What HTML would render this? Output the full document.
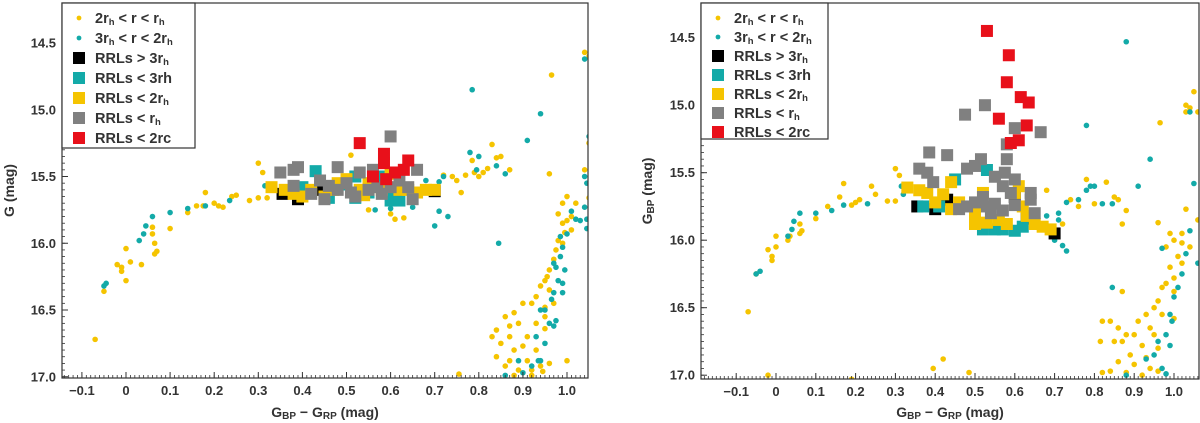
<!DOCTYPE html>
<html><head><meta charset="utf-8"><style>
body{margin:0;background:#fff;}
svg{display:block;font-family:"Liberation Sans","DejaVu Sans",sans-serif;}
</style></head><body>
<svg id="c" width="1200" height="423"></svg>
<script>
// ===== Data: left panel (G vs BP-RP) =====
const L_ring2_x=[-0.07,-0.05,-0.02,0.0,-0.01,-0.01,0.0,0.01,0.035,0.06,0.06,0.065,0.07,0.065,0.1,0.14,0.16,0.175,0.18,0.2,0.21,0.22,0.24,0.25,0.28,0.3,0.31,0.32,0.3,0.51,0.55,0.6,0.61,0.63,0.72,0.74,0.75,0.76,0.77,0.79,0.8,0.81,0.82,0.83,0.84,0.85,0.87,0.785,0.755,0.965,1.04,1.05,1.05,1.04,0.96,1.05,1.0,0.99,1.02,0.98,1.0,0.99,1.01,0.995,0.98,0.975,0.97,0.96,0.955,0.95,0.94,0.96,0.93,0.92,0.95,0.9,0.88,0.86,0.89,0.93,0.95,0.84,0.87,0.91,0.85,0.88,0.9,0.93,0.84,0.87,0.91,0.92,0.86,0.89,0.94,1.0,0.96,0.88,0.92,0.945,0.83,0.87,0.95,0.97,0.99,1.01];
const L_ring2_y=[16.72,16.36,16.16,16.04,16.18,16.21,16.28,16.14,16.16,15.88,15.93,16.0,16.06,16.08,15.89,15.77,15.72,15.72,15.62,15.7,15.72,15.73,15.65,15.64,15.68,15.4,15.47,15.66,15.66,15.34,15.75,15.78,15.82,15.81,15.49,15.5,15.53,15.62,15.49,15.47,15.5,15.47,15.44,15.26,15.36,15.35,15.45,15.38,16.98,14.74,14.57,14.6,15.25,15.45,15.48,15.66,15.65,15.7,15.7,15.78,15.83,15.85,15.9,15.92,15.98,16.05,16.12,16.2,16.25,16.28,16.32,16.35,16.4,16.45,16.48,16.45,16.52,16.55,16.6,16.6,16.64,16.65,16.7,16.7,16.75,16.8,16.77,16.8,16.85,16.88,16.88,16.95,16.92,16.95,16.92,16.88,16.9,16.99,16.99,16.96,16.7,16.62,16.55,16.45,16.0,15.8];
const L_ring3_x=[-0.05,-0.045,0.03,0.04,0.045,0.06,0.1,0.14,0.18,0.235,0.315,0.78,0.785,0.795,0.8,0.84,0.845,0.86,0.91,0.94,1.04,1.05,1.04,1.045,1.04,1.045,1.045,0.72,0.71,0.71,0.73,0.7,0.68,0.65,0.6,0.565,1.0,0.99,0.985,0.97,0.975,0.995,0.98,0.99,0.97,0.99,0.965,0.95,0.94,0.96,0.97,0.975,0.93,0.95,0.94,0.935,0.92,0.89,0.9,0.86,0.985,1.01,1.02,1.03];
const L_ring3_y=[16.32,16.3,15.98,15.93,15.87,15.8,15.77,15.74,15.72,15.68,15.57,15.32,14.85,15.45,15.35,15.42,16.0,15.48,15.23,15.03,14.62,15.2,15.5,15.55,15.73,15.82,15.89,15.5,15.54,15.76,15.8,15.87,15.53,15.73,15.74,15.75,15.93,16.03,16.1,16.15,16.18,16.2,16.28,16.3,16.37,16.37,16.42,16.5,16.5,16.6,16.62,16.58,16.7,16.75,16.88,16.88,16.92,16.88,16.97,16.99,15.95,15.76,15.82,15.83];
const L_rrl3_x=[0.43,0.5,0.55,0.6,0.62,0.46,0.52,0.4,0.58,0.52,0.6];
const L_rrl3_y=[15.46,15.56,15.62,15.68,15.68,15.66,15.66,15.58,15.5,15.5,15.6];
const L_rrlOut_x=[0.355,0.39,0.7,0.44];
const L_rrlOut_y=[15.63,15.67,15.61,15.6];
const L_rrl2_x=[0.33,0.36,0.38,0.42,0.45,0.48,0.5,0.53,0.55,0.58,0.6,0.62,0.64,0.66,0.68,0.7,0.47,0.54,0.4];
const L_rrl2_y=[15.58,15.6,15.63,15.6,15.65,15.55,15.52,15.6,15.55,15.6,15.48,15.6,15.6,15.62,15.6,15.6,15.6,15.64,15.65];
const L_rrl1_x=[0.35,0.38,0.39,0.38,0.42,0.44,0.45,0.48,0.48,0.5,0.52,0.53,0.55,0.56,0.58,0.6,0.6,0.62,0.64,0.65,0.66,0.51,0.57,0.46];
const L_rrl1_y=[15.47,15.45,15.43,15.57,15.63,15.53,15.67,15.43,15.6,15.55,15.65,15.47,15.6,15.45,15.63,15.2,15.58,15.53,15.58,15.67,15.45,15.62,15.58,15.57];
const L_rrlc_x=[0.53,0.585,0.585,0.56,0.59,0.61,0.63,0.64];
const L_rrlc_y=[15.25,15.33,15.4,15.5,15.52,15.47,15.45,15.38];
// ===== Data: right panel (G_BP vs BP-RP) =====
const R_ring2_x=[-0.07,-0.05,-0.02,-0.01,-0.01,0.0,0.0,0.03,0.035,0.06,0.065,0.06,0.1,0.13,0.17,0.16,0.2,0.19,0.21,0.24,0.25,0.28,0.3,0.31,0.3,-0.02,0.19,0.395,0.42,0.485,0.68,0.74,0.76,0.78,0.83,0.85,0.86,0.87,0.88,0.8,0.72,0.965,0.96,1.05,1.03,1.04,1.03,1.06,1.03,1.06,0.99,1.0,1.02,1.04,1.01,1.02,0.99,1.0,0.98,0.97,1.0,0.96,0.95,0.93,0.97,0.91,0.94,0.88,0.9,0.95,0.87,0.92,0.96,0.89,0.93,0.86,0.9,0.94,0.96,0.88,0.92,0.82,0.84,0.86,0.815,0.85,0.84,0.82,0.98,1.0,0.87,1.02];
const R_ring2_y=[16.53,16.25,16.07,16.12,16.15,15.97,16.05,16.0,15.97,15.88,15.93,15.95,15.84,15.75,15.58,15.68,15.72,15.74,15.7,15.6,15.66,15.71,15.47,15.52,15.71,17.0,17.03,16.95,16.88,16.98,15.63,15.7,15.75,15.55,15.57,15.68,15.7,15.88,15.78,15.73,15.88,15.13,15.87,14.9,15.0,15.02,15.05,15.05,15.77,15.85,15.95,16.0,16.02,16.05,16.12,16.17,16.2,16.28,16.32,16.35,16.38,16.45,16.5,16.55,16.55,16.6,16.65,16.7,16.7,16.7,16.75,16.78,16.8,16.85,16.87,16.9,16.92,16.95,16.97,16.98,17.0,16.6,16.6,16.65,16.75,16.75,16.97,16.98,16.05,16.58,16.38,15.95];
const R_ring3_x=[-0.05,-0.04,0.03,0.04,0.045,0.06,0.1,0.14,0.17,0.23,0.315,0.32,0.78,0.79,0.8,0.82,0.845,0.88,0.78,0.91,0.94,0.845,1.04,1.05,1.06,1.04,0.97,1.01,1.0,0.99,0.995,0.98,0.99,0.96,0.95,0.93,0.97,0.98,0.88,0.71,0.71,0.72,0.73,0.7,0.68,0.76,0.73,1.02,1.03];
const R_ring3_y=[16.25,16.23,15.97,15.92,15.86,15.8,15.8,15.78,15.74,15.73,15.6,15.66,15.63,15.6,15.6,15.73,15.73,14.53,15.15,15.6,15.4,16.35,15.05,15.58,16.17,15.93,16.06,16.35,16.42,16.55,16.6,16.7,16.78,16.75,16.85,16.88,16.95,16.99,17.0,15.8,15.85,16.04,16.08,16.0,15.82,15.7,15.72,16.25,16.1];
const R_rrl3_x=[0.37,0.53,0.45,0.52,0.55,0.6,0.62,0.57,0.41];
const R_rrl3_y=[15.75,15.48,15.55,15.92,15.92,15.93,15.9,15.92,15.75];
const R_rrlOut_x=[0.355,0.43,0.6,0.7,0.63,0.4];
const R_rrlOut_y=[15.75,15.7,15.68,15.95,15.84,15.77];
const R_rrl2_x=[0.33,0.36,0.38,0.4,0.42,0.44,0.44,0.46,0.5,0.5,0.53,0.56,0.58,0.6,0.61,0.63,0.65,0.67,0.69,0.62,0.52];
const R_rrl2_y=[15.61,15.63,15.65,15.72,15.66,15.57,15.77,15.72,15.8,15.88,15.87,15.85,15.88,15.65,15.6,15.82,15.88,15.9,15.92,15.75,15.65];
const R_rrl1_x=[0.525,0.475,0.6,0.665,0.385,0.43,0.515,0.5,0.48,0.58,0.58,0.36,0.38,0.395,0.55,0.575,0.6,0.57,0.59,0.64,0.64,0.65,0.6,0.54,0.52,0.5,0.46,0.48,0.53,0.55,0.57];
const R_rrl1_y=[15.0,15.07,15.17,15.2,15.35,15.37,15.4,15.45,15.47,15.4,15.29,15.47,15.5,15.57,15.53,15.5,15.55,15.6,15.65,15.65,15.7,15.8,15.74,15.8,15.68,15.72,15.77,15.75,15.75,15.73,15.78];
const R_rrlc_x=[0.53,0.585,0.58,0.615,0.635,0.56,0.63,0.59,0.61];
const R_rrlc_y=[14.45,14.63,14.83,14.94,14.98,15.1,15.15,15.28,15.26];
const xTicks=[-0.1,0,0.1,0.2,0.3,0.4,0.5,0.6,0.7,0.8,0.9,1.0];
const xTickLabels=["−0.1","0","0.1","0.2","0.3","0.4","0.5","0.6","0.7","0.8","0.9","1.0"];
const yTicks=[14.5,15.0,15.5,16.0,16.5,17.0];
const yTickLabels=["14.5","15.0","15.5","16.0","16.5","17.0"];

const NS="http://www.w3.org/2000/svg";
const svg=document.getElementById('c');
function mk(tag,attrs,parent){const e=document.createElementNS(NS,tag);for(const k in attrs)e.setAttribute(k,attrs[k]);(parent||svg).appendChild(e);return e;}
const YEL="#f5c400",TEAL="#13aaa8",GRAY="#808080",RED="#e8101a",BLK="#000";

function panel(cfg){
  const g=mk('g',{});
  
  
  const sx=v=>cfg.x0+cfg.xs*v;
  const sy=m=>cfg.y0+cfg.ys*(m-14.5);
  const clipId=cfg.name+'-clip';
  const cp=mk('clipPath',{id:clipId},g);
  mk('rect',{x:cfg.L,y:cfg.T,width:cfg.R-cfg.L,height:cfg.B-cfg.T},cp);
  const pts=mk('g',{'clip-path':'url(#'+clipId+')'},g);
  function dots(xs,ys,col,nm){for(let i=0;i<xs.length;i++){const c=mk('circle',{cx:sx(xs[i]),cy:sy(ys[i]),r:2.8,fill:col},pts);
    
    }}
  function sqs(xs,ys,col,nm){for(let i=0;i<xs.length;i++){const s=mk('rect',{x:sx(xs[i])-6,y:sy(ys[i])-6,width:12,height:12,fill:col},pts);
    
    }}
  const d=cfg.d;
  dots(d.r2x,d.r2y,YEL,'star-2rh');
  dots(d.r3x,d.r3y,TEAL,'star-3rh');
  sqs(d.ox,d.oy,BLK,'rrl-outer');
  sqs(d.t3x,d.t3y,TEAL,'rrl-3rh');
  sqs(d.t2x,d.t2y,YEL,'rrl-2rh');
  sqs(d.t1x,d.t1y,GRAY,'rrl-rh');
  sqs(d.cx,d.cy,RED,'rrl-2rc');
  mk('rect',{x:cfg.L,y:cfg.T,width:cfg.R-cfg.L,height:cfg.B-cfg.T,fill:'none',stroke:'#333','stroke-width':1.2},g);
  for(let v=-0.2;v<=1.1;v+=0.01){const px=sx(v);if(px>cfg.L&&px<cfg.R)mk('line',{x1:px,x2:px,y1:cfg.B,y2:cfg.B-3,stroke:'#333','stroke-width':0.8},g);}
  for(let m=14.2;m<=17.05;m+=0.05){const py=sy(m);if(py>cfg.T&&py<cfg.B)mk('line',{x1:cfg.L,x2:cfg.L+3,y1:py,y2:py,stroke:'#333','stroke-width':0.8},g);}
  xTicks.forEach((v,i)=>{const px=sx(v);
    mk('line',{x1:px,x2:px,y1:cfg.B,y2:cfg.B-6,stroke:'#333'},g);
    const t=mk('text',{x:px,y:cfg.B+17,'text-anchor':'middle','font-size':13,'font-weight':'bold',fill:'#333'},g);t.textContent=xTickLabels[i];
    
    });
  yTicks.forEach((m,i)=>{const py=sy(m);
    mk('line',{x1:cfg.L,x2:cfg.L+6,y1:py,y2:py,stroke:'#333'},g);
    const t=mk('text',{x:cfg.L-6,y:py+4.5,'text-anchor':'end','font-size':13,'font-weight':'bold',fill:'#333'},g);t.textContent=yTickLabels[i];
    
    });
  const xt=mk('text',{x:(cfg.L+cfg.R)/2,y:417,'text-anchor':'middle','font-size':14,'font-weight':'bold',fill:'#333'},g);
  xt.innerHTML='G<tspan font-size="10" dy="2">BP</tspan><tspan dy="-2"> − G</tspan><tspan font-size="10" dy="2">RP</tspan><tspan dy="-2"> (mag)</tspan>';
  
  
  const yt=mk('text',{x:0,y:0,'text-anchor':'middle','font-size':14,'font-weight':'bold',fill:'#333',transform:`translate(${cfg.ytx},${(cfg.T+cfg.B)/2}) rotate(-90)`},g);
  yt.innerHTML=cfg.ytitle;
  
  
  const lg=mk('g',{},g);
  
  
  mk('rect',{x:cfg.L,y:cfg.T,width:cfg.lw,height:cfg.lh,fill:'#fff',stroke:'#333','stroke-width':1.2},lg);
  const sub=s=>`<tspan font-size="9.5" dy="2">${s}</tspan><tspan dy="-2">`;
  const items=[
    ['dot',YEL,`2r${sub('h')} &lt; r &lt; r${sub('h')}</tspan>`],
    ['dot',TEAL,`3r${sub('h')} &lt; r &lt; 2r${sub('h')}</tspan>`],
    ['sq',BLK,`RRLs &gt; 3r${sub('h')}</tspan>`],
    ['sq',TEAL,`RRLs &lt; 3rh`],
    ['sq',YEL,`RRLs &lt; 2r${sub('h')}</tspan>`],
    ['sq',GRAY,`RRLs &lt; r${sub('h')}</tspan>`],
    ['sq',RED,`RRLs &lt; 2rc`]];
  items.forEach((it,i)=>{const cy=cfg.T+15+i*cfg.lstep;
    const e=mk('g',{},lg);
    
    
    if(it[0]=='dot')mk('circle',{cx:cfg.L+17,cy:cy,r:2.4,fill:it[1]},e);
    else mk('rect',{x:cfg.L+11,y:cy-6,width:12,height:12,fill:it[1]},e);
    const t=mk('text',{x:cfg.L+33,y:cy+5,'font-size':14.5,'font-weight':'bold',fill:'#333'},e);t.innerHTML=it[2];});
}
panel({name:'left-panel',L:62,R:588,T:3,B:378,x0:126,xs:441,y0:43,ys:133.5,ytx:14,lw:133,lh:145,lstep:20,
  ytitle:'G (mag)',
  d:{r2x:L_ring2_x,r2y:L_ring2_y,r3x:L_ring3_x,r3y:L_ring3_y,ox:L_rrlOut_x,oy:L_rrlOut_y,t3x:L_rrl3_x,t3y:L_rrl3_y,t2x:L_rrl2_x,t2y:L_rrl2_y,t1x:L_rrl1_x,t1y:L_rrl1_y,cx:L_rrlc_x,cy:L_rrlc_y}});
panel({name:'right-panel',L:701,R:1199,T:3,B:379,x0:776,xs:398,y0:37.7,ys:135,ytx:652,lw:127,lh:136,lstep:19,
  ytitle:'G<tspan font-size="10" dy="2">BP</tspan><tspan dy="-2"> (mag)</tspan>',
  d:{r2x:R_ring2_x,r2y:R_ring2_y,r3x:R_ring3_x,r3y:R_ring3_y,ox:R_rrlOut_x,oy:R_rrlOut_y,t3x:R_rrl3_x,t3y:R_rrl3_y,t2x:R_rrl2_x,t2y:R_rrl2_y,t1x:R_rrl1_x,t1y:R_rrl1_y,cx:R_rrlc_x,cy:R_rrlc_y}});
</script>
</body></html>
